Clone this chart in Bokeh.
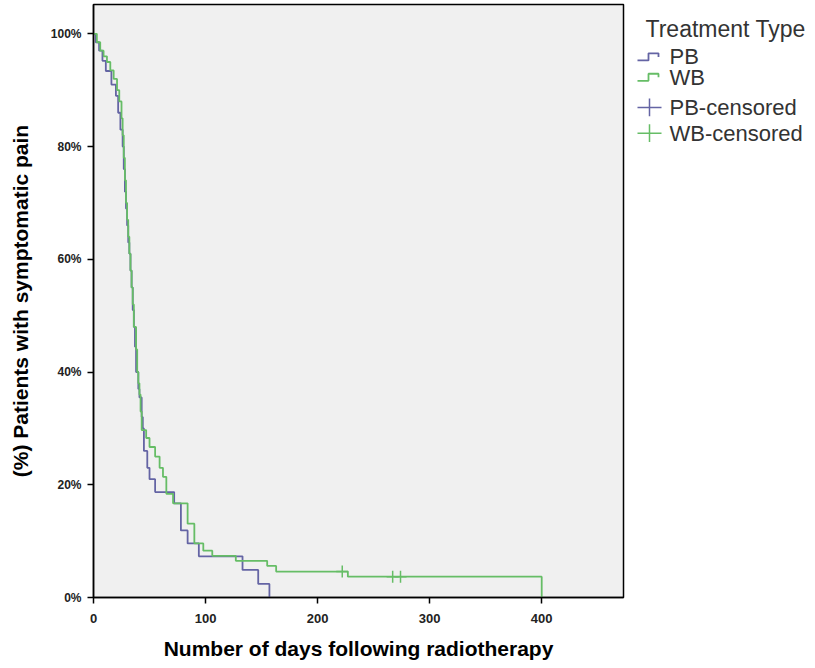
from bokeh.plotting import figure
from bokeh.layouts import row
from bokeh.models import Range1d, FixedTicker, PrintfTickFormatter
from bokeh.core.properties import value
from bokeh.embed import file_html
from bokeh.resources import INLINE

# ---- data ----
pb_days = [0, 2, 5, 8, 11, 16, 20, 22, 24, 26, 27, 28, 29, 30, 31, 32, 33, 34, 35, 36,
           37, 38, 40, 41, 43, 44, 45, 48, 50, 55, 72, 78, 84, 94, 133, 147, 157]
pb_surv = [100, 98.5, 97, 95.2, 93.4, 91, 89, 86, 83, 80, 76, 72, 69, 66, 63, 61, 58, 55, 51, 48,
           44.5, 40, 37, 35.5, 32, 30, 26, 23, 21, 18.7, 16.7, 11.9, 9.6, 7.3, 4.9, 2.4, 0]

wb_days = [0, 3, 6, 9, 12, 15, 18, 21, 23, 25, 26, 27, 28, 29, 30, 31, 32, 33, 34, 35,
           36, 38, 39, 40, 41, 42, 43, 47, 50, 55, 59, 62, 65, 71, 84, 90, 98, 106, 127, 155,
           163, 227, 400]
wb_surv = [100, 98.5, 97, 96, 95, 93.5, 92, 90, 88, 85, 82, 78, 74, 70, 67, 64, 61, 58, 55, 52,
           48, 44, 40, 38, 36, 33, 29.7, 28.3, 26.7, 25, 23, 21.4, 18.4, 16.7, 13.1, 9.6, 8.3, 7.4, 6.5, 5.6,
           4.6, 3.7, 0]

pb_cens_days = []
pb_cens_surv = []
wb_cens_days = [222, 267, 274]
wb_cens_surv = [4.6, 3.7, 3.7]

x_ticks = [0, 100, 200, 300, 400]
y_ticks = [0, 20, 40, 60, 80, 100]

legend_title = "Treatment Type"
legend_labels = ["PB", "WB", "PB-censored", "WB-censored"]

PB_COLOR = "#6464a4"
WB_COLOR = "#66bd66"
FONT = "Liberation Sans"
TEXT_COLOR = "#333333"

p = figure(width=625, height=668, output_backend="svg", toolbar_location=None,
           x_range=Range1d(0, 473), y_range=Range1d(0, 105.2),
           min_border_left=93, min_border_top=4, min_border_bottom=71, min_border_right=2)

p.background_fill_color = "#f0f0f0"
p.border_fill_color = "white"
p.outline_line_color = "black"
p.outline_line_width = 1.5
p.grid.visible = False

p.step(pb_days, pb_surv, mode="after", line_color=PB_COLOR, line_width=1.8)
p.step(wb_days, wb_surv, mode="after", line_color=WB_COLOR, line_width=1.8)
p.scatter(pb_cens_days, pb_cens_surv, marker="cross", size=12, line_color=PB_COLOR, line_width=1.5)
p.scatter(wb_cens_days, wb_cens_surv, marker="cross", size=12, line_color=WB_COLOR, line_width=1.5)

for ax in (p.xaxis[0], p.yaxis[0]):
    ax.axis_line_color = "black"
    ax.axis_line_width = 1.5
    ax.major_tick_line_color = "black"
    ax.major_tick_line_width = 1.5
    ax.major_tick_out = 6
    ax.major_tick_in = 0
    ax.minor_tick_line_color = None
    ax.major_label_text_font = FONT
    ax.major_label_text_font_style = "bold"
    ax.major_label_text_color = "#222222"
    ax.axis_label_text_font = FONT
    ax.axis_label_text_font_style = "bold"
    ax.axis_label_text_color = "black"

p.xaxis.axis_label_text_font_size = "21px"
p.yaxis.axis_label_text_font_size = "21px"
p.xaxis.major_label_text_font_size = "13px"
p.yaxis.major_label_text_font_size = "12px"
p.xaxis.ticker = FixedTicker(ticks=x_ticks)
p.yaxis.ticker = FixedTicker(ticks=y_ticks)
p.yaxis.formatter = PrintfTickFormatter(format="%d%%")
p.xaxis.axis_label = "Number of days following radiotherapy"
p.yaxis.axis_label = "(%) Patients with symptomatic pain"
p.xaxis.major_label_standoff = 10
p.xaxis.axis_label_standoff = 11
p.yaxis.major_label_standoff = 6
p.yaxis.axis_label_standoff = 16

# ---- legend panel (coordinates in page pixels) ----
lg = figure(width=190, height=668, output_backend="svg", toolbar_location=None,
            x_range=Range1d(625, 815), y_range=Range1d(668, 0),
            min_border=0, outline_line_color=None)
lg.axis.visible = False
lg.grid.visible = False
lg.background_fill_color = "white"
lg.border_fill_color = "white"

title_x, title_y = 645, 28
label_x = 669
row_y = [59, 82, 116, 145]
icon_x0, icon_x1 = 637, 661
colors = [PB_COLOR, WB_COLOR, PB_COLOR, WB_COLOR]

lg.text([title_x], [title_y], text=[legend_title], text_font=value(FONT), text_font_size="23px",
        text_color=TEXT_COLOR, text_baseline="middle", text_align="left")
lg.text([label_x] * 4, row_y, text=legend_labels, text_font=value(FONT), text_font_size="22px",
        text_color=TEXT_COLOR, text_baseline="middle", text_align="left")
for i, (yy, c) in enumerate(zip(row_y, colors)):
    if i < 2:
        mid = (icon_x0 + icon_x1) / 2 - 1
        lg.line([icon_x0, mid, mid, icon_x1 - 3, icon_x1 - 3],
                [yy + 4, yy + 4, yy - 4, yy - 4, yy], line_color=c, line_width=1.8)
    else:
        mid = (icon_x0 + icon_x1) / 2
        lg.segment([icon_x0, mid], [yy, yy - 10], [icon_x1, mid], [yy, yy + 10],
                   line_color=c, line_width=1.5)

layout = row(p, lg)
open("out.html", "w").write(file_html(layout, INLINE))
